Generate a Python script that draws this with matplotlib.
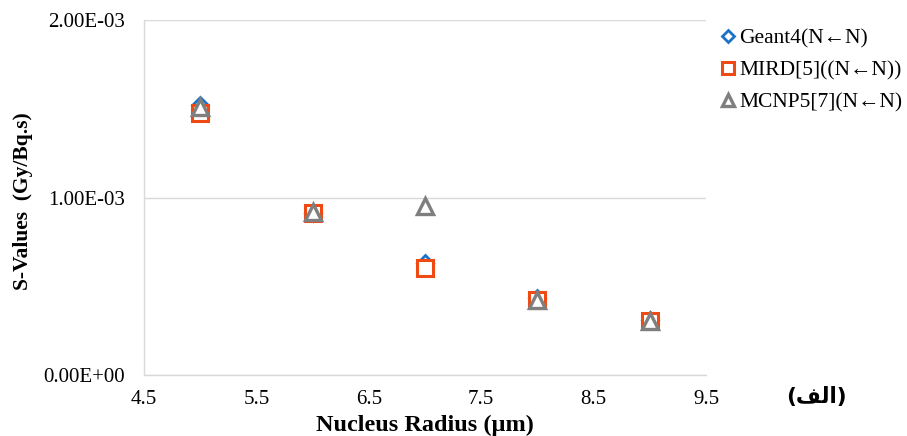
import matplotlib
matplotlib.use("Agg")
import matplotlib.pyplot as plt
from matplotlib.ticker import FuncFormatter

plt.rcParams['font.family'] = ['Liberation Serif', 'DejaVu Sans']

radius = [5, 6, 7, 8, 9]
geant4 = [1.52e-3, 0.915e-3, 0.63e-3, 0.434e-3, 0.307e-3]
mird = [1.476e-3, 0.913e-3, 0.603e-3, 0.423e-3, 0.303e-3]
mcnp5 = [1.51e-3, 0.92e-3, 0.952e-3, 0.425e-3, 0.305e-3]
labels = ['Geant4(N\u2190N)', 'MIRD[5]((N\u2190N))', 'MCNP5[7](N\u2190N)']
xticks = [4.5, 5.5, 6.5, 7.5, 8.5, 9.5]
yticks = [0, 1e-3, 2e-3]

fig = plt.figure(figsize=(9.07, 4.36), dpi=100)
ax = fig.add_axes([0.1588, 0.140, 0.6196, 0.814])

ax.plot(radius, geant4, linestyle='none', marker='D', markersize=8, markerfacecolor='white',
        markeredgecolor='#1a73c9', markeredgewidth=2, label=labels[0], zorder=3)
ax.plot(radius, mird, linestyle='none', marker='s', markersize=11, markerfacecolor='white',
        markeredgecolor='#f04a14', markeredgewidth=2.2, label=labels[1], zorder=4)
ax.plot(radius, mcnp5, linestyle='none', marker='^', markersize=11, markerfacecolor='white',
        markeredgecolor='#7f7f7f', markeredgewidth=2.4, label=labels[2], zorder=5)

ax.set_xlim(4.5, 9.5)
ax.set_ylim(0, 2e-3)
ax.set_xticks(xticks)
ax.set_xticklabels([f'{v:.1f}' for v in xticks])
ax.set_yticks(yticks)
ax.yaxis.set_major_formatter(FuncFormatter(lambda v, p: f'{v:.2E}'))
ax.tick_params(axis='y', length=0, labelsize=15, pad=14)
ax.tick_params(axis='x', length=0, labelsize=15, pad=11)
ax.grid(axis='y', color='#d9d9d9', linewidth=1)
ax.set_axisbelow(True)
for s in ['top', 'right']:
    ax.spines[s].set_visible(False)
for s in ['left', 'bottom']:
    ax.spines[s].set_color('#d9d9d9')
    ax.spines[s].set_linewidth(1)

ax.set_xlabel('Nucleus Radius (\u00b5m)', fontsize=17.5, fontweight='bold')
ax.xaxis.set_label_coords(0.5, -0.112)
ax.set_ylabel('S-Values  (Gy/Bq.s)', fontsize=15.5, fontweight='bold')
ax.yaxis.set_label_coords(-0.1975, 0.49)

fig.legend(loc='upper left', bbox_to_anchor=(0.781, 0.955), frameon=False, fontsize=15.5,
           handletextpad=0.05, handlelength=1.0, labelspacing=0.55, borderaxespad=0,
           markerscale=0.8)

fig.text(0.90, 0.09, '(\ufed2\ufedf\ufe8d)', fontsize=15.5, fontweight='bold', ha='center', va='center',
         family=['DejaVu Sans'])

fig.savefig('out.png', dpi=100)
